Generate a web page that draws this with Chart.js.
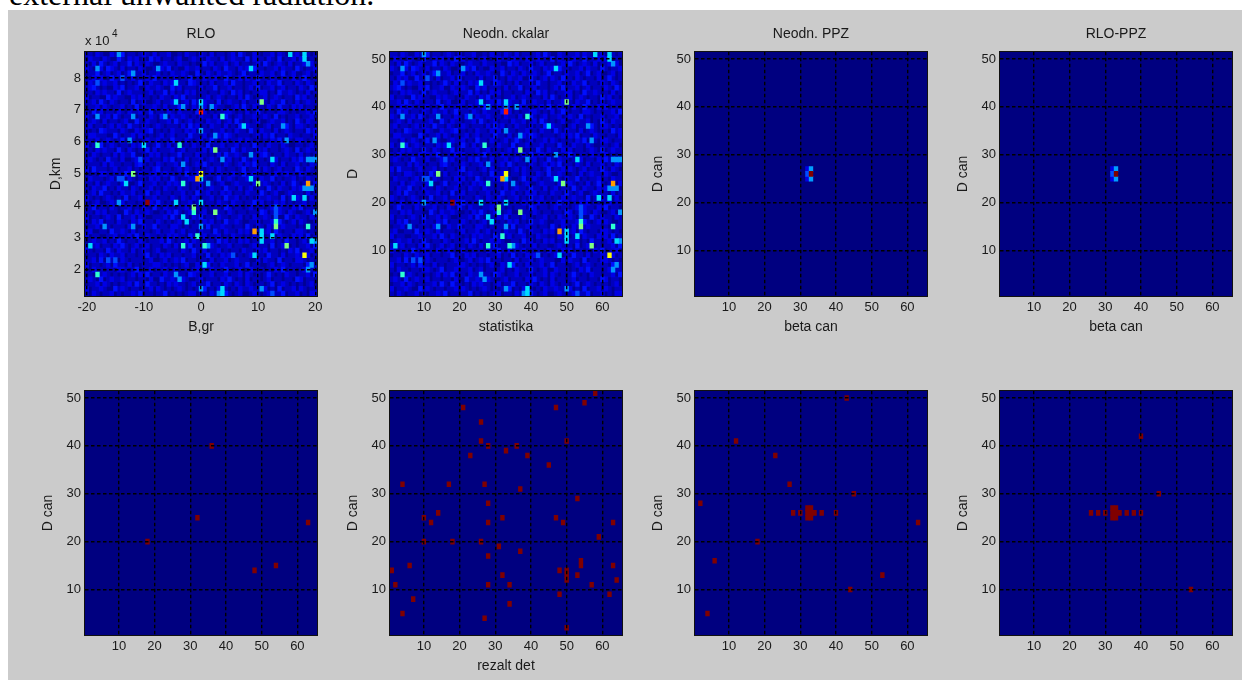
<!DOCTYPE html>
<html lang="en">
<head>
<meta charset="UTF-8">
<title>RLO / PPZ panels</title>
<script src="https://cdn.jsdelivr.net/npm/chart.js"></script>
<style>
    html, body { margin: 0; padding: 0; background: #fff; overflow: hidden; width: 1242px; height: 680px; }
    #caption { position: absolute; left: 9px; top: -21px; font: 32px/30px "Liberation Serif", serif; color: #000; white-space: nowrap; }
    #sheet { position: absolute; left: 8px; top: 10px; width: 1234px; height: 670px; background: #cbcbcb; }
    canvas { position: absolute; }
</style>
</head>
<body>
<div id="caption">external unwanted radiation.</div>
<div id="sheet"></div>

<script>
const fieldRows = [
    "11021 00212 30110 12102 01120 01021 10210 20110 12031 00210 11202 10312 01101",
    "02110 21003 10212 01031 20110 12001 21102 11020 12110 30211 02103 01120 21010",
    "10203 10120 11302 10210 01211 02110 10031 20112 01201 10120 31012 10201 12020",
    "21012 03210 20110 21001 12130 10021 12011 02103 11021 20311 01120 21103 10112",
    "01130 12012 01301 12011 20102 11210 03102 10211 21013 01102 11201 30120 01201",
    "10212 00311 21020 11203 01110 20113 01021 12003 10120 21031 10210 11020 13101",
    "02101 21120 10101 31021 10212 01103 21010 20112 03110 11201 02113 01102 10210",
    "12310 10021 30112 00211 21003 12011 10201 13011 20110 12030 11201 20110 21031",
    "01021 21103 01211 10120 11302 01021 20110 11021 03120 10112 20103 11210 10201",
    "20110 03121 10021 21101 02110 21301 10112 01210 11020 31011 20121 01103 12010",
    "11203 10210 11030 12001 20112 10120 31021 10301 21102 01120 10211 30102 01211",
    "01120 21011 20103 01112 10201 13010 21020 12110 01203 10211 02103 11021 20110",
    "10312 01102 10211 20130 11021 02111 03120 10112 21010 20131 01102 21010 11203",
    "21001 12031 01120 11021 03102 11210 10211 02013 10120 11201 21030 10112 01120",
    "01210 20110 12003 10211 01120 31012 01102 11201 20310 10120 01211 20103 10211",
    "12011 01202 10311 02101 21011 10203 12010 21102 01031 21100 12011 03102 21010",
    "10103 21110 21002 11230 10102 11021 20311 01120 10211 03102 11020 12101 10312",
    "02211 10031 01120 21010 12012 01103 11020 10213 21011 10120 21301 10211 01102",
    "11020 12101 30110 01211 20103 11021 01201 31012 01120 21010 10213 01102 21011",
    "20113 01210 11021 20101 31020 12010 21103 01120 11201 10311 02110 21001 10120",
    "01021 21103 10210 11302 01112 01201 10120 21011 03102 11021 20110 12103 01211",
    "10210 11020 21130 01021 20101 13011 02110 10203 11210 01102 31011 02110 20101",
    "12101 03110 20012 11201 10213 01020 11201 21011 20103 10211 01120 11021 31012",
    "01110 20211 01102 31010 21011 20110 12031 01102 10120 21301 10210 20112 01021",
    "20311 10120 11201 01102 30110 12021 01101 20210 11013 01120 21012 01103 10210",
    "10102 21011 03110 20112 01211 01030 12101 10211 02103 11210 01020 12110 21001",
    "02111 01203 10210 11021 20103 10112 20110 01301 21011 20102 11301 01120 10211",
    "11020 12110 21001 30112 01021 21010 11203 10120 01211 10201 21010 20131 01102",
    "10211 30102 11021 01120 10211 02110 10201 21103 11020 12011 03102 11021 20110",
    "01203 11010 21120 10301 20110 11201 03112 01021 20110 21103 10120 01211 10201",
    "21010 12101 03011 20112 01102 10210 21011 20103 11201 01021 12110 30102 11020",
    "10120 01211 20110 11021 31010 20112 01201 10211 02110 11302 01021 20101 12011",
    "01301 10210 11201 02103 10211 01120 21010 11103 20110 12011 01202 11021 30110",
    "11021 20110 03102 11210 01021 31012 10120 02110 21011 01103 20112 10210 01201",
    "20110 12103 01120 21001 11203 10110 21301 10211 01120 10211 21010 03102 11021",
    "10213 01102 11021 30110 21010 12011 01021 20103 11210 01120 11203 10120 21001",
    "01120 21011 10210 02113 01102 21010 11203 01121 10110 31021 02101 21110 10211",
    "12001 10311 21020 11101 20112 01201 10211 03102 11021 20110 12031 01102 21010",
    "20110 01120 11203 10211 01021 21103 10120 11201 02110 10213 01102 11021 20301",
    "01211 20103 10110 21011 12031 01120 21001 10312 01021 20110 11201 03110 12010",
    "10120 11021 31012 01201 10210 20113 01102 21011 20110 01211 10301 21010 11203",
    "21011 03102 11020 12101 20011 10210 31020 11201 01102 11021 20110 10213 01120",
    "01102 10211 20110 11301 02120 11011 20103 01021 21010 12101 03110 20112 10201",
    "11203 01120 21011 10120 01201 21301 10110 20112 01211 10020 21103 01102 21010",
    "20110 12031 10201 01112 21010 10120 02113 01021 11201 30110 01201 21011 10311",
    "10211 01102 21013 01120 11201 20110 12010 21103 10120 02111 01021 30110 12011",
    "01021 21010 10120 21301 10211 01103 21011 20112 01120 21010 13101 02110 11203",
    "12103 01211 20110 11020 03112 10210 01201 11021 31010 20110 12011 01103 20110",
    "01120 21010 11203 10311 01021 21101 20113 01102 10210 21011 01301 21010 10120",
    "20112 10031 21011 01120 21010 12101 01130 10211 01021 12110 20103 01120 21011",
    "10210 11201 01121 30110 11301 01012 20110 21103 10120 01210 12011 30112 01022"
];

// bright cells of the same field: [column, D, level]
const fieldHot = [
    [62,51,6],[62,50,6],[58,51,6],[63,49,5],[10,51,5],[4,48,5],[21,48,5],[47,48,6],[26,45,6],
    [14,47,5],[11,46,4],[4,45,4],[26,41,6],[33,41,6],[33,40,5],[50,41,8],[28,40,5],[36,40,5],
    [33,39,11],[23,38,5],[39,38,7],[4,38,5],[14,38,5],[45,36,6],[37,34,5],[33,35,5],[56,36,5],
    [13,33,5],[4,32,7],[17,32,6],[27,32,7],[57,33,5],[37,31,8],[47,30,5],[53,29,6],[39,29,5],
    [16,29,4],[28,28,5],[63,29,5],[64,29,5],[65,29,5],[14,26,8],[33,26,9],[33,25,6],[32,25,10],
    [10,25,4],[11,25,4],[12,24,6],[28,24,7],[35,24,5],[47,25,6],[49,24,8],[63,24,10],[62,23,5],
    [63,23,5],[64,23,5],[59,21,6],[62,21,6],[18,20,12],[26,20,6],[33,20,6],[10,20,5],[31,19,8],
    [31,18,7],[37,18,8],[28,17,6],[54,19,4],[54,18,4],[54,17,4],[54,16,7],[54,15,8],[29,16,6],
    [63,15,7],[14,15,5],[6,15,5],[33,15,5],[65,18,5],[48,14,10],[50,14,6],[50,13,6],[50,12,6],
    [32,13,7],[53,13,6],[64,12,6],[65,12,5],[2,11,6],[28,11,7],[34,11,7],[35,11,5],[57,11,8],
    [62,9,9],[48,9,6],[42,9,4],[7,8,4],[9,8,4],[64,7,5],[63,6,5],[34,7,6],[4,5,7],[26,5,5],
    [27,4,5],[33,2,5],[39,2,6],[39,1,6],[38,1,5],[50,2,5],[53,1,4]
];

// colormap position of each level
const levelValues = [0.02, 0.06, 0.10, 0.14, 0.20, 0.27, 0.34, 0.42, 0.50, 0.62, 0.72, 0.85, 0.98];

// the peak left after the can filter: [column, D, colormap position]
const canPeak = [
    [33,26,1], [33,25,0.28], [33,27,0.28], [32,26,0.2], [32,25,0.1], [32,27,0.1]
];

// threshold detections: [column, D]
const detScalar = [[18,20],[32,25],[36,40],[63,24],[48,14],[54,15]];
const detRezalt = [
    [58,51],[55,49],[21,48],[47,48],[26,45],[26,41],[50,41],[28,40],[36,40],[33,39],[23,38],[39,38],
    [45,36],[4,32],[17,32],[27,32],[37,31],[53,29],[28,28],[14,26],[10,25],[32,25],[47,25],[12,24],
    [28,24],[49,24],[63,24],[59,21],[10,20],[18,20],[26,20],[31,19],[37,18],[28,17],[54,16],[6,15],
    [54,15],[63,15],[1,14],[48,14],[50,14],[32,13],[50,13],[53,13],[50,12],[64,12],[2,11],[28,11],
    [34,11],[57,11],[48,9],[62,9],[7,8],[34,7],[4,5],[27,4],[50,2]
];
const detPpz = [
    [43,50],[12,41],[23,38],[27,32],[45,30],[2,28],[32,27],[33,27],[28,26],[30,26],[32,26],[33,26],
    [34,26],[36,26],[40,26],[32,25],[33,25],[63,24],[18,20],[6,16],[53,13],[44,10],[4,5]
];
const detRloPpz = [
    [40,42],[45,30],[32,27],[33,27],[26,26],[28,26],[30,26],[32,26],[33,26],[34,26],[36,26],[38,26],
    [40,26],[32,25],[33,25],[54,10]
];

const COLS = 65;
const ROWS = 51;

// same map MATLAB calls jet
function jet(v) {
    const ch = (c) => Math.round(255 * Math.max(0, Math.min(1, c)));
    const r = 1.5 - Math.abs(4 * v - 3);
    const g = 1.5 - Math.abs(4 * v - 2);
    const b = 1.5 - Math.abs(4 * v - 1);
    return `rgb(${ch(r)},${ch(g)},${ch(b)})`;
}

function emptyGrid(value) {
    const grid = [];
    for (let r = 1; r <= ROWS; r++) {
        grid[r] = [];
        for (let c = 1; c <= COLS; c++) grid[r][c] = value;
    }
    return grid;
}

function fieldGrid() {
    const grid = emptyGrid(0);
    fieldRows.forEach((line, i) => {
        const digits = line.replace(/ /g, '');
        for (let c = 1; c <= COLS; c++) {
            grid[ROWS - i][c] = levelValues[Number(digits[c - 1] || 0)];
        }
    });
    fieldHot.forEach(([c, r, level]) => { grid[r][c] = levelValues[level]; });
    return grid;
}

function maskGrid(cells) {
    const grid = emptyGrid(0);
    cells.forEach(([c, r, v]) => { grid[r][c] = v === undefined ? 1 : v; });
    return grid;
}

// the axes of the first panel, in degrees and in 10^4 km
const indexAxis = { xLo: 0.5, xStep: 1, yLo: 0.5, yStep: 1, xMin: 0.5, xMax: 65.5, yMin: 0.5, yMax: 51.5, xTick: 10, yTick: 10 };
const rangeAxis = { xLo: -20.3125, xStep: 0.625, yLo: 1.16, yStep: 0.1502, xMin: -20.3125, xMax: 20.3125, yMin: 1.16, yMax: 8.82, xTick: 10, yTick: 1 };

const frameAndBack = {
    id: 'frameAndBack',
    beforeDatasetsDraw(chart) {
        const a = chart.chartArea;
        chart.ctx.fillStyle = '#000080';
        chart.ctx.fillRect(a.left, a.top, a.width, a.height);
    },
    afterDraw(chart) {
        const a = chart.chartArea;
        chart.ctx.strokeStyle = '#111';
        chart.ctx.lineWidth = 1;
        chart.ctx.strokeRect(Math.round(a.left) - 0.5, Math.round(a.top) - 0.5, Math.round(a.width) + 1, Math.round(a.height) + 1);
    }
};

const exponentLabel = {
    id: 'exponentLabel',
    afterDraw(chart) {
        const ctx = chart.ctx;
        const a = chart.chartArea;
        ctx.fillStyle = '#1a1a1a';
        ctx.textAlign = 'left';
        ctx.textBaseline = 'alphabetic';
        ctx.font = '13px "Liberation Sans"';
        ctx.fillText('x 10', a.left, a.top - 7);
        ctx.font = '10px "Liberation Sans"';
        ctx.fillText('4', a.left + 27, a.top - 15);
    }
};

const PLOT_W = 232;
const PLOT_H = 244;
const PAD_LEFT = 60;
const PAD_TOP = 42;
const PAD_BOTTOM = 50;
const PAD_RIGHT = 10;

function addPanel(p) {
    const canvas = document.createElement('canvas');
    canvas.width = PAD_LEFT + PLOT_W + PAD_RIGHT;
    canvas.height = PAD_TOP + PLOT_H + PAD_BOTTOM;
    canvas.style.left = (p.left - PAD_LEFT) + 'px';
    canvas.style.top = (p.top - PAD_TOP) + 'px';
    document.body.appendChild(canvas);

    const ax = p.axis;
    const entries = [];
    for (let r = 1; r <= ROWS; r++) {
        for (let c = 1; c <= COLS; c++) {
            entries.push({
                x: ax.xLo + (c - 0.5) * ax.xStep,
                y: [ax.yLo + (r - 1) * ax.yStep, ax.yLo + r * ax.yStep],
                v: p.grid[r][c]
            });
        }
    }
    // strongest cells go last so their neighbours do not paint over them
    entries.sort((a, b) => a.v - b.v);
    const cells = entries.map((e) => ({ x: e.x, y: e.y }));
    const colors = entries.map((e) => jet(e.v));

    const tickFont = { family: '"Liberation Sans"', size: 13 };
    const labelFont = { family: '"Liberation Sans"', size: 14 };
    const gridOpts = { color: '#000', lineWidth: 1.4, drawTicks: false, offset: false, z: 1 };
    const borderOpts = { display: false, dash: [3.5, 2.5] };

    new Chart(canvas, {
        type: 'bar',
        data: {
            datasets: [{
                data: cells,
                backgroundColor: colors,
                borderWidth: 0,
                barPercentage: 1,
                categoryPercentage: 1,
                inflateAmount: 0.4
            }]
        },
        options: {
            responsive: false,
            animation: false,
            events: [],
            layout: { padding: { right: PAD_RIGHT } },
            plugins: {
                legend: { display: false },
                tooltip: { enabled: false },
                title: {
                    display: true,
                    text: p.title || ' ',
                    fullSize: false,
                    color: '#1a1a1a',
                    font: { ...labelFont, weight: 'normal' },
                    padding: { top: 16, bottom: 9 }
                }
            },
            scales: {
                x: {
                    type: 'linear',
                    offset: false,
                    min: ax.xMin,
                    max: ax.xMax,
                    grid: gridOpts,
                    border: borderOpts,
                    afterFit(scale) { scale.height = PAD_BOTTOM; },
                    ticks: {
                        stepSize: ax.xTick,
                        includeBounds: false,
                        maxRotation: 0,
                        padding: 4,
                        color: '#1a1a1a',
                        font: tickFont
                    },
                    title: {
                        display: !!p.xLabel,
                        text: p.xLabel,
                        color: '#1a1a1a',
                        font: labelFont,
                        padding: { top: 0, bottom: 10 }
                    }
                },
                y: {
                    min: ax.yMin,
                    max: ax.yMax,
                    grid: gridOpts,
                    border: borderOpts,
                    afterFit(scale) { scale.width = PAD_LEFT; },
                    ticks: {
                        stepSize: ax.yTick,
                        includeBounds: false,
                        padding: 4,
                        color: '#1a1a1a',
                        font: tickFont
                    },
                    title: {
                        display: !!p.yLabel,
                        text: p.yLabel,
                        color: '#1a1a1a',
                        font: labelFont,
                        padding: { top: p.yPad, bottom: 0 }
                    }
                }
            }
        },
        plugins: p.exponent ? [frameAndBack, exponentLabel] : [frameAndBack]
    });
}

const field = fieldGrid();

addPanel({ left: 85,   top: 52,  grid: field, axis: rangeAxis, title: 'RLO', xLabel: 'B,gr', yLabel: 'D,km', yPad: 23, exponent: true });
addPanel({ left: 390,  top: 52,  grid: field, axis: indexAxis, title: 'Neodn. ckalar', xLabel: 'statistika', yLabel: 'D', yPad: 15 });
addPanel({ left: 695,  top: 52,  grid: maskGrid(canPeak), axis: indexAxis, title: 'Neodn. PPZ', xLabel: 'beta can', yLabel: 'D can', yPad: 15 });
addPanel({ left: 1000, top: 52,  grid: maskGrid(canPeak), axis: indexAxis, title: 'RLO-PPZ', xLabel: 'beta can', yLabel: 'D can', yPad: 15 });
addPanel({ left: 85,   top: 391, grid: maskGrid(detScalar), axis: indexAxis, yLabel: 'D can', yPad: 15 });
addPanel({ left: 390,  top: 391, grid: maskGrid(detRezalt), axis: indexAxis, xLabel: 'rezalt det', yLabel: 'D can', yPad: 15 });
addPanel({ left: 695,  top: 391, grid: maskGrid(detPpz), axis: indexAxis, yLabel: 'D can', yPad: 15 });
addPanel({ left: 1000, top: 391, grid: maskGrid(detRloPpz), axis: indexAxis, yLabel: 'D can', yPad: 15 });
</script>
</body>
</html>
